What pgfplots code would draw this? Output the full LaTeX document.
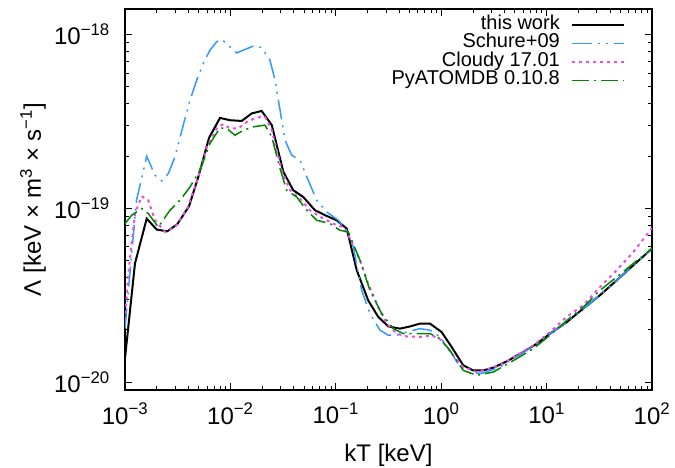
\documentclass[border=0pt]{standalone}
\usepackage{fontspec}
\setmainfont{Liberation Sans}
\usepackage{pgfplots}
\pgfplotsset{compat=1.18}
\definecolor{schure}{RGB}{51,153,255}
\definecolor{cloudy}{RGB}{235,75,235}
\definecolor{pyatom}{RGB}{0,135,0}

\begin{document}
\begin{tikzpicture}
\begin{loglogaxis}[
  scale only axis, width=527pt, height=381pt,
  xmin=1e-3, xmax=1e2, ymin=9e-21, ymax=1.4e-18,
  tick align=inside, major tick length=7pt, minor tick length=4pt,
  every tick/.style={black, line width=0.8pt},
  axis line style={line width=1.2pt},
  ticklabel style={font=\fontsize{24}{28}\selectfont, inner sep=0pt},
  xticklabel shift=13pt, yticklabel shift=15pt,
  xticklabel={\pgfmathtruncatemacro\e{round(\tick/ln(10))}10\textsuperscript{\ifnum\e<0 −\number-\e\else\number\e\fi}},
  yticklabel={\pgfmathtruncatemacro\e{round(\tick/ln(10))}10\textsuperscript{\ifnum\e<0 −\number-\e\else\number\e\fi}},
  xlabel={kT [keV]},
  ylabel={Λ [keV × m\textsuperscript{3} × s\textsuperscript{−1}]},
  every axis x label/.style={at={(axis description cs:0.5,-0.1417)}, anchor=north,
    font=\fontsize{24}{28}\selectfont, inner sep=0pt},
  every axis y label/.style={at={(axis description cs:-0.1499,0.5)}, rotate=90, anchor=south,
    font=\fontsize{24}{28}\selectfont, inner sep=0pt},
  legend plot pos=right,
  legend image code/.code={\draw[#1] (0pt,0pt) -- (52pt,0pt);},
  legend style={draw=none, fill=none, at={(1,1)}, xshift=-27pt, yshift=-6.75pt,
    anchor=north east, inner sep=0pt, font=\fontsize{20}{20}\selectfont,
    cells={anchor=east}, nodes={inner sep=0pt, text height=13.5pt, text depth=5pt},
    column sep=11pt, row sep=0pt},
]
% this work
\addplot[black, line width=2pt] table {
0.001 1.37e-20
1.244e-3 4.82e-20
1.607e-3 8.72e-20
2.0e-3 7.54e-20
2.52e-3 7.37e-20
3.13e-3 8.09e-20
4.05e-3 1.027e-19
4.96e-3 1.514e-19
6.27e-3 2.54e-19
7.97e-3 3.31e-19
9.91e-3 3.21e-19
1.28e-2 3.18e-19
1.59e-2 3.51e-19
1.98e-2 3.63e-19
2.47e-2 3.01e-19
3.18e-2 1.62e-19
3.95e-2 1.27e-19
4.92e-2 1.16e-19
6.35e-2 9.74e-20
7.9e-2 9.12e-20
0.102 8.53e-20
0.127 7.64e-20
0.158 4.40e-20
0.203 2.95e-20
0.253 2.37e-20
0.315 2.09e-20
0.406 2.03e-20
0.506 2.09e-20
0.629 2.17e-20
0.783 2.17e-20
1.01 1.94e-20
1.258 1.59e-20
1.62 1.248e-20
2.017 1.167e-20
2.51 1.167e-20
3.12 1.21e-20
4.18 1.315e-20
5.80 1.469e-20
8.05 1.66e-20
10.77 1.90e-20
15.5 2.21e-20
22.3 2.65e-20
32.1 3.16e-20
46.2 3.85e-20
66.5 4.70e-20
100 5.86e-20
};
\addlegendentry{this work}
% Schure+09
\addplot[schure, line width=1.5pt, dash pattern=on 20pt off 6pt on 2pt off 6pt on 2pt off 6pt] table {
0.001 2.04e-20
1.285e-3 1.11e-19
1.607e-3 1.99e-19
1.926e-3 1.55e-19
2.23e-3 1.436e-19
2.576e-3 1.584e-19
2.98e-3 1.973e-19
3.57e-3 3.01e-19
4.14e-3 4.19e-19
4.79e-3 5.46e-19
5.53e-3 6.81e-19
6.40e-3 8.12e-19
7.41e-3 9.07e-19
8.27e-3 9.36e-19
9.91e-3 8.49e-19
1.148e-2 7.83e-19
1.326e-2 8.12e-19
1.65e-2 8.57e-19
1.98e-2 8.42e-19
2.375e-2 7.11e-19
2.65e-2 5.46e-19
2.96e-2 3.66e-19
3.30e-2 2.46e-19
3.82e-2 2.02e-19
4.57e-2 1.89e-19
5.48e-2 1.45e-19
6.59e-2 1.11e-19
8.2e-2 9.52e-20
0.1056 8.53e-20
0.1268 7.47e-20
0.1466 5.99e-20
0.176 3.37e-20
0.211 2.48e-20
0.2627 1.99e-20
0.3148 1.86e-20
0.378 1.86e-20
0.471 1.94e-20
0.629 2.03e-20
0.783 1.99e-20
0.974 1.82e-20
1.212 1.52e-20
1.508 1.22e-20
1.876 1.127e-20
2.51 1.127e-20
3.61 1.22e-20
5.20 1.406e-20
8.05 1.66e-20
10.77 1.90e-20
15.5 2.21e-20
22.3 2.65e-20
32.1 3.16e-20
46.2 3.85e-20
66.5 4.70e-20
100 5.86e-20
};
\addlegendentry{Schure+09}
% Cloudy 17.01
\addplot[cloudy, line width=2pt, dash pattern=on 3pt off 4pt] table {
0.001 2.26e-20
1.075e-3 4.21e-20
1.244e-3 9.32e-20
1.44e-3 1.172e-19
1.664e-3 1.11e-19
1.926e-3 8.53e-20
2.40e-3 7.31e-20
2.98e-3 7.80e-20
3.85e-3 9.74e-20
4.79e-3 1.416e-19
5.96e-3 2.25e-19
7.41e-3 2.88e-19
8.56e-3 3.05e-19
9.91e-3 2.88e-19
1.19e-2 2.88e-19
1.428e-2 3.14e-19
1.776e-2 3.33e-19
2.13e-2 3.36e-19
2.47e-2 2.81e-19
3.07e-2 1.655e-19
3.68e-2 1.27e-19
4.57e-2 1.137e-19
5.69e-2 9.74e-20
7.61e-2 8.72e-20
0.102 7.98e-20
0.1178 7.80e-20
0.1364 6.70e-20
0.1697 5.02e-20
0.203 3.68e-20
0.253 2.70e-20
0.304 2.17e-20
0.378 1.90e-20
0.471 1.83e-20
0.629 1.82e-20
0.813 1.86e-20
1.01 1.74e-20
1.258 1.457e-20
1.62 1.22e-20
2.17 1.142e-20
2.51 1.167e-20
3.61 1.248e-20
5.20 1.425e-20
7.48 1.626e-20
10.77 1.94e-20
15.5 2.37e-20
22.3 2.77e-20
32.1 3.52e-20
46.2 4.40e-20
66.5 5.60e-20
100 7.7e-20
};
\addlegendentry{Cloudy 17.01}
% PyATOMDB 0.10.8
\addplot[pyatom, line width=1.5pt, dash pattern=on 17pt off 5pt on 2pt off 5pt] table {
0.001 8.17e-20
1.158e-3 9.12e-20
1.44e-3 9.96e-20
1.664e-3 9.32e-20
2.07e-3 7.80e-20
2.67e-3 9.74e-20
3.32e-3 1.11e-19
4.14e-3 1.327e-19
5.15e-3 1.655e-19
6.40e-3 2.36e-19
7.97e-3 2.90e-19
9.23e-3 2.88e-19
1.106e-2 2.63e-19
1.326e-2 2.81e-19
1.65e-2 2.94e-19
2.13e-2 3.01e-19
2.47e-2 2.57e-19
2.96e-2 1.69e-19
3.42e-2 1.27e-19
4.26e-2 1.16e-19
5.30e-2 9.74e-20
6.59e-2 8.53e-20
8.81e-2 8.17e-20
0.1096 7.47e-20
0.1314 7.31e-20
0.1697 5.02e-20
0.211 3.37e-20
0.2725 2.48e-20
0.351 2.03e-20
0.437 1.90e-20
0.586 1.90e-20
0.783 1.90e-20
0.974 1.78e-20
1.212 1.52e-20
1.62 1.167e-20
2.17 1.093e-20
3.12 1.142e-20
5.20 1.364e-20
7.48 1.556e-20
10.77 1.86e-20
15.5 2.26e-20
22.3 2.70e-20
32.1 3.37e-20
46.2 4.02e-20
66.5 4.81e-20
100 5.86e-20
};
\addlegendentry{PyATOMDB 0.10.8}
\end{loglogaxis}
\path[use as bounding box] (-125pt,-78pt) rectangle (550pt,390pt);
\end{tikzpicture}
\end{document}
